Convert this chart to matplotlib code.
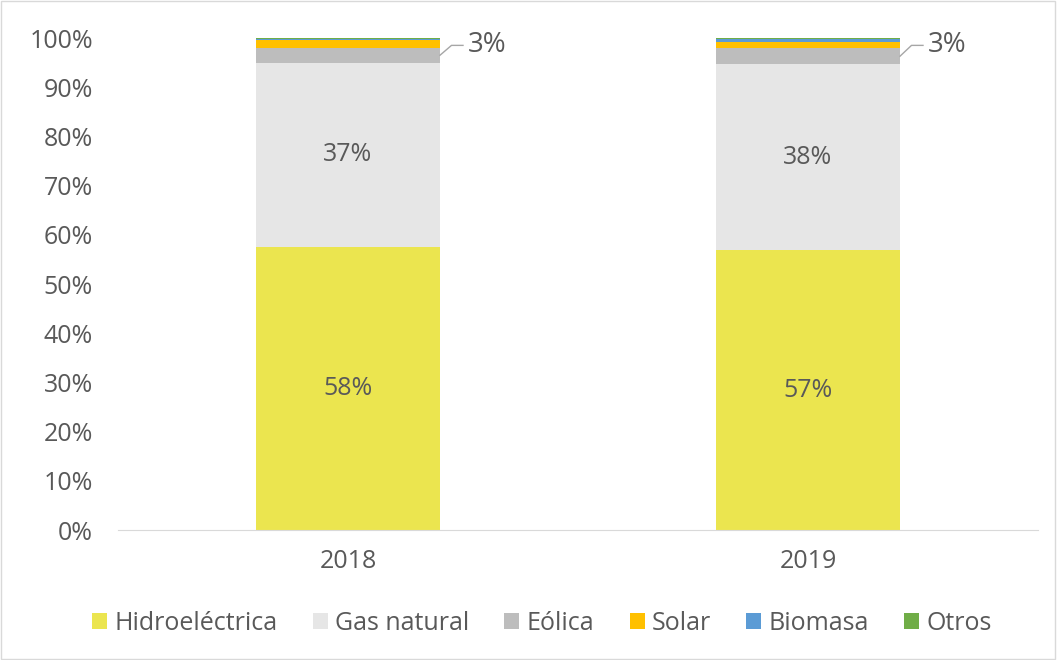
import matplotlib.pyplot as plt
import numpy as np

years = ['2018', '2019']
series = ['Hidroeléctrica', 'Gas natural', 'Eólica', 'Solar', 'Biomasa', 'Otros']
hidro = [57.6, 56.9]
gas = [37.4, 37.8]
eolica = [3.0, 3.2]
solar = [1.5, 1.3]
biomasa = [0.2, 0.5]
otros = [0.3, 0.3]
colors = ['#EBE54F', '#E6E6E6', '#BDBDBD', '#FFC000', '#5B9BD5', '#70AD47']
txt = '#595959'

plt.rcParams['font.family'] = ['Open Sans', 'DejaVu Sans']

fig = plt.figure(figsize=(10.57, 6.6), dpi=100)
ax = fig.add_axes([118 / 1057, 1 - 530 / 660, 920 / 1057, 492 / 660])

x = np.arange(len(years))
bottom = np.zeros(len(years))
values = [hidro, gas, eolica, solar, biomasa, otros]
for name, vals, c in zip(series, values, colors):
    ax.bar(x, vals, width=0.4, bottom=bottom, color=c, label=name)
    bottom += np.array(vals)

# labels inside bars
for i in range(len(years)):
    ax.text(x[i], hidro[i] / 2, f'{round(hidro[i])}%', ha='center', va='center',
            fontsize=18, color=txt)
    ax.text(x[i], hidro[i] + gas[i] / 2, f'{round(gas[i])}%', ha='center', va='center',
            fontsize=18, color=txt)
    # leader line for eolica
    y_e = hidro[i] + gas[i] + eolica[i] / 2
    xe = x[i] + 0.2
    ax.plot([xe, xe + 0.025, xe + 0.05], [y_e, 98.5, 98.5], color='#A6A6A6', lw=1,
            clip_on=False)
    ax.text(xe + 0.06, 98.5, f'{round(eolica[i])}%', ha='left', va='center',
            fontsize=20, color=txt)

ax.set_xlim(-0.5, 1.5)
ax.set_ylim(0, 100)
ax.set_xticks(x)
ax.set_xticklabels(years)
ax.set_yticks(np.arange(0, 101, 10))
ax.set_yticklabels([f'{v}%' for v in range(0, 101, 10)])
ax.tick_params(axis='both', length=0, labelsize=18, colors=txt)
ax.tick_params(axis='x', pad=14)
ax.tick_params(axis='y', pad=18)
for s in ['top', 'right', 'left']:
    ax.spines[s].set_visible(False)
ax.spines['bottom'].set_color('#D9D9D9')

ax.legend(loc='center', bbox_to_anchor=(0.461, -0.19), ncol=6, frameon=False,
          fontsize=18, labelcolor=txt, handlelength=0.6, handleheight=0.6,
          handletextpad=0.3, columnspacing=1.4)

fig.patches.append(plt.Rectangle((0.001, 0.001), 0.997, 0.997, transform=fig.transFigure,
                                 fill=False, edgecolor='#D9D9D9', lw=1))

fig.savefig('out.png', dpi=100)
